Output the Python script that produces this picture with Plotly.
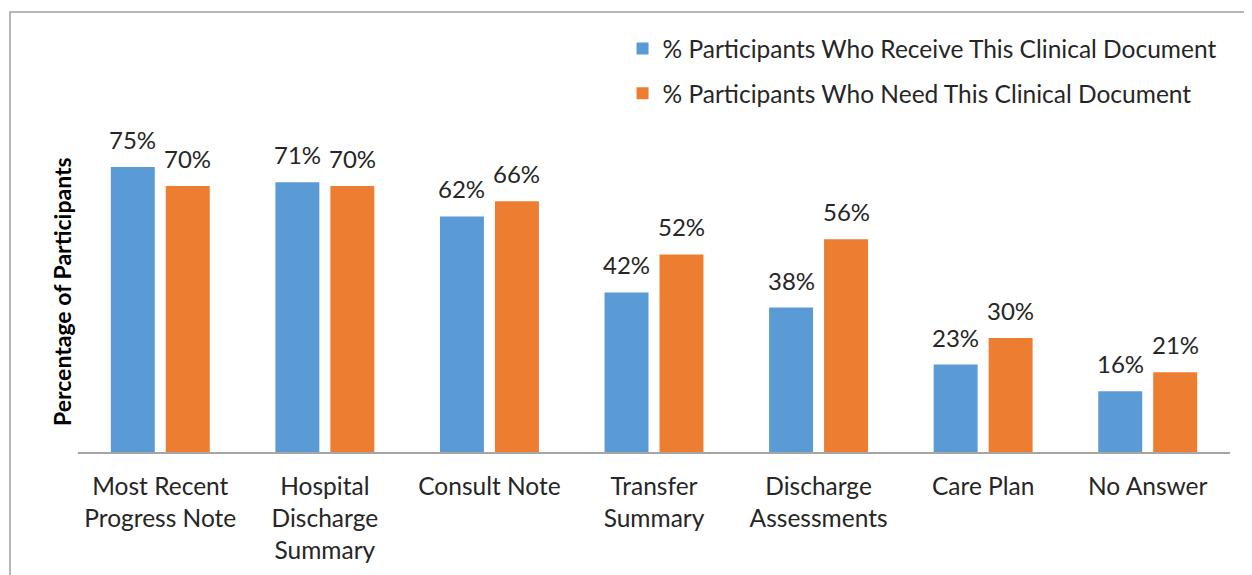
import plotly.graph_objects as go

categories = ["Most Recent<br>Progress Note", "Hospital<br>Discharge<br>Summary", "Consult Note",
              "Transfer<br>Summary", "Discharge<br>Assessments", "Care Plan", "No Answer"]
receive = [75, 71, 62, 42, 38, 23, 16]
need = [70, 70, 66, 52, 56, 30, 21]
series_names = ["% Participants Who Receive This Clinical Document",
                "% Participants Who Need This Clinical Document"]
colors = ["#5B9BD5", "#ED7D31"]

FONT = "Lato, 'Open Sans', sans-serif"
TXT = "#262626"

W, H = 1252, 575
L, T = 70, 64
PW, PH = 1152, 380
BARGAP, GROUPGAP = 0.332, 0.2

fig = go.Figure()
for vals, name, col, grp in [(receive, series_names[0], colors[0], "a"), (need, series_names[1], colors[1], "b")]:
    fig.add_trace(go.Bar(
        x=categories, y=vals, name=name, marker=dict(color=col, line=dict(width=0)),
        legendgroup=grp, hoverinfo="x+y",
    ))

# value labels above bars, positioned on the data scales
slot = PW / len(categories) * (1 - BARGAP) / 2
annotations = []
for vals, shift in [(receive, -slot / 2), (need, slot / 2)]:
    for c, v in zip(categories, vals):
        annotations.append(dict(x=c, y=v, xref="x", yref="y", text=f"{v}%", showarrow=False,
                                xanchor="center", yanchor="bottom", xshift=shift, yshift=11,
                                font=dict(size=24, color=TXT, family=FONT)))

annotations.append(dict(text="<b>Percentage of Participants</b>", textangle=-90,
                        xref="paper", yref="paper", x=(54 - L) / PW, y=(T + PH - 284) / PH,
                        xanchor="center", yanchor="middle", showarrow=False,
                        font=dict(size=23, color="#000000", family=FONT)))

fig.update_layout(
    width=W, height=H,
    margin=dict(l=L, r=W - L - PW, t=T, b=H - T - PH),
    plot_bgcolor="white", paper_bgcolor="white",
    barmode="group", bargap=BARGAP, bargroupgap=GROUPGAP,
    font=dict(family=FONT, color=TXT),
    showlegend=True,
    legend=dict(x=0.4727, y=1.121, xanchor="left", yanchor="top",
                font=dict(size=24.5, color=TXT, family=FONT),
                traceorder="grouped", tracegroupgap=10, bgcolor="rgba(0,0,0,0)"),
    xaxis=dict(showline=True, linecolor="#A6A6A6", linewidth=1.5, ticks="",
               tickfont=dict(size=24.5, color=TXT, family=FONT), showgrid=False,
               ticklabelstandoff=12),
    yaxis=dict(range=[0, 100], visible=False, showgrid=False, zeroline=False),
    shapes=[dict(type="rect", xref="paper", yref="paper",
                 x0=(2 - L) / PW, x1=(1280 - L) / PW,
                 y0=(T + PH - 600) / PH, y1=(T + PH - 4) / PH,
                 line=dict(color="#A0A0A0", width=1.5), fillcolor="rgba(0,0,0,0)", layer="below")],
    annotations=annotations,
)

fig.write_html("out.html")
